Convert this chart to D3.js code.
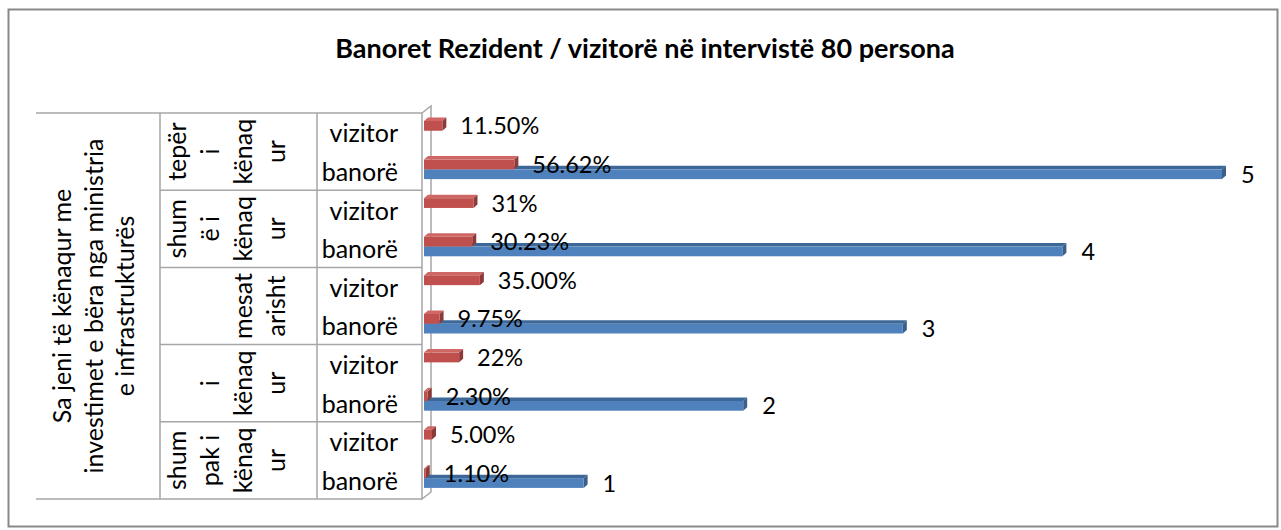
<!DOCTYPE html>
<html>
<head>
  <script src="https://d3js.org/d3.v7.min.js"></script>
  <style>
    body { margin: 0; background: #fff; }
    text { font-family: Lato, "Open Sans", sans-serif; fill: #000; }
  </style>
</head>
<body>
  <div id="chart"></div>

  <script>
    // chart data, top to bottom as on screen
    var title = "Banoret Rezident / vizitorë në intervistë 80 persona";
    var axisTitle = ["Sa jeni të kënaqur me", "investimet e bëra nga ministria", "e infrastrukturës"];
    var groupLines = [
      ["tepër", "i", "kënaq", "ur"],
      ["shum", "ë i", "kënaq", "ur"],
      ["mesat", "arisht"],
      ["i", "kënaq", "ur"],
      ["shum", "pak i", "kënaq", "ur"]
    ];
    var respondents = ["vizitor", "banorë"];
    var pctValues = [0.115, 0.5662, 0.31, 0.3023, 0.35, 0.0975, 0.22, 0.023, 0.05, 0.011];
    var pctLabels = ["11.50%", "56.62%", "31%", "30.23%", "35.00%", "9.75%", "22%", "2.30%", "5.00%", "1.10%"];
    var scoreValues = [null, 5, null, 4, null, 3, null, 2, null, 1];

    var width = 1281, height = 530;
    var rows = [];
    groupLines.forEach(function(g, gi) {
      respondents.forEach(function(r, ri) {
        var i = gi * 2 + ri;
        rows.push({ i: i, group: gi, who: r, pct: pctValues[i], pctLabel: pctLabels[i], score: scoreValues[i] });
      });
    });

    var svg = d3.select("#chart").append("svg")
      .attr("width", width)
      .attr("height", height);

    svg.append("rect")
      .attr("x", 8.5).attr("y", 9.5)
      .attr("width", 1269).attr("height", 517)
      .attr("fill", "#fff")
      .attr("stroke", "#898989")
      .attr("stroke-width", 2);

    svg.append("text")
      .attr("x", 645).attr("y", 58)
      .attr("text-anchor", "middle")
      .style("font-size", "27px")
      .style("font-weight", "bold")
      .text(title);

    var plotTop = 113, plotBottom = 499, axisX = 422;
    var y = d3.scaleBand().domain(d3.range(rows.length)).range([plotTop, plotBottom]);
    var sub = d3.scaleBand().domain(["pct", "score"]).range([8, 27.5]);
    var x = d3.scaleLinear().domain([0, 5]).range([424, 1222]);

    // category axis grid
    var lineColor = "#a6a6a6";
    var grid = svg.append("g").attr("stroke", lineColor).attr("stroke-width", 1.5).attr("fill", "none");
    grid.append("line").attr("x1", 36).attr("x2", axisX).attr("y1", plotTop).attr("y2", plotTop);
    grid.append("line").attr("x1", 36).attr("x2", axisX).attr("y1", plotBottom).attr("y2", plotBottom);
    [160, 317].forEach(function(vx) {
      grid.append("line").attr("x1", vx).attr("x2", vx).attr("y1", plotTop).attr("y2", plotBottom);
    });
    d3.range(1, groupLines.length).forEach(function(k) {
      var yy = y(k * 2);
      grid.append("line").attr("x1", 160).attr("x2", axisX).attr("y1", yy).attr("y2", yy);
    });
    // 3d side wall
    var dx = 9, dy = 7;
    grid.append("path")
      .attr("d", "M" + axisX + "," + plotTop + "L" + (axisX + dx) + "," + (plotTop - dy) +
        "L" + (axisX + dx) + "," + (plotBottom - dy) + "L" + axisX + "," + plotBottom + "Z");

    var catSize = "25px";

    // level 3 labels
    svg.append("g").selectAll("text")
      .data(rows).enter().append("text")
      .attr("x", 398)
      .attr("y", function(d) { return y(d.i) + y.bandwidth() / 2 + 10; })
      .attr("text-anchor", "end")
      .style("font-size", catSize)
      .text(function(d) { return d.who; });

    // level 2 labels (rotated, wrapped)
    groupLines.forEach(function(lines, gi) {
      var cyMid = y(gi * 2) + y.bandwidth();
      var n = lines.length;
      lines.forEach(function(t, li) {
        var bx = 285 - (n - 1 - li) * 33;
        svg.append("text")
          .attr("transform", "translate(" + bx + "," + cyMid + ") rotate(-90)")
          .attr("text-anchor", "middle")
          .style("font-size", catSize)
          .text(t);
      });
    });

    // level 1 axis title
    axisTitle.forEach(function(t, li) {
      svg.append("text")
        .attr("transform", "translate(" + (71 + li * 31.5) + "," + ((plotTop + plotBottom) / 2) + ") rotate(-90)")
        .attr("text-anchor", "middle")
        .style("font-size", catSize)
        .text(t);
    });

    // 3d bars
    var ox = 4, oy = 3.5;
    var colors = {
      pct: { front: "#c0504d", top: "#cf6764", side: "#8c3a38" },
      score: { front: "#4f81bd", top: "#3c6797", side: "#3a5f8b" }
    };
    function bar3d(g, x0, x1, yy, h, c) {
      g.append("polygon")
        .attr("points", [[x0, yy], [x0 + ox, yy - oy], [x1 + ox, yy - oy], [x1, yy]].join(" "))
        .attr("fill", c.top);
      g.append("polygon")
        .attr("points", [[x1, yy], [x1 + ox, yy - oy], [x1 + ox, yy + h - oy], [x1, yy + h]].join(" "))
        .attr("fill", c.side);
      g.append("rect")
        .attr("x", x0).attr("y", yy)
        .attr("width", Math.max(0, x1 - x0)).attr("height", h)
        .attr("fill", c.front);
    }

    var bars = svg.append("g");
    rows.forEach(function(d) {
      if (d.score != null) {
        bar3d(bars, x(0), x(d.score), y(d.i) + sub("score"), sub.bandwidth(), colors.score);
      }
      bar3d(bars, x(0), x(d.pct), y(d.i) + sub("pct"), sub.bandwidth(), colors.pct);
    });

    // data labels
    var labels = svg.append("g").style("font-size", "23.5px");
    rows.forEach(function(d) {
      labels.append("text")
        .attr("x", x(d.pct) + 18)
        .attr("y", y(d.i) + sub("pct") + sub.bandwidth() / 2 + 8.5)
        .text(d.pctLabel);
      if (d.score != null) {
        labels.append("text")
          .attr("x", x(d.score) + 19)
          .attr("y", y(d.i) + sub("score") + sub.bandwidth() / 2 + 8.5)
          .text(d.score);
      }
    });
  </script>
</body>
</html>
